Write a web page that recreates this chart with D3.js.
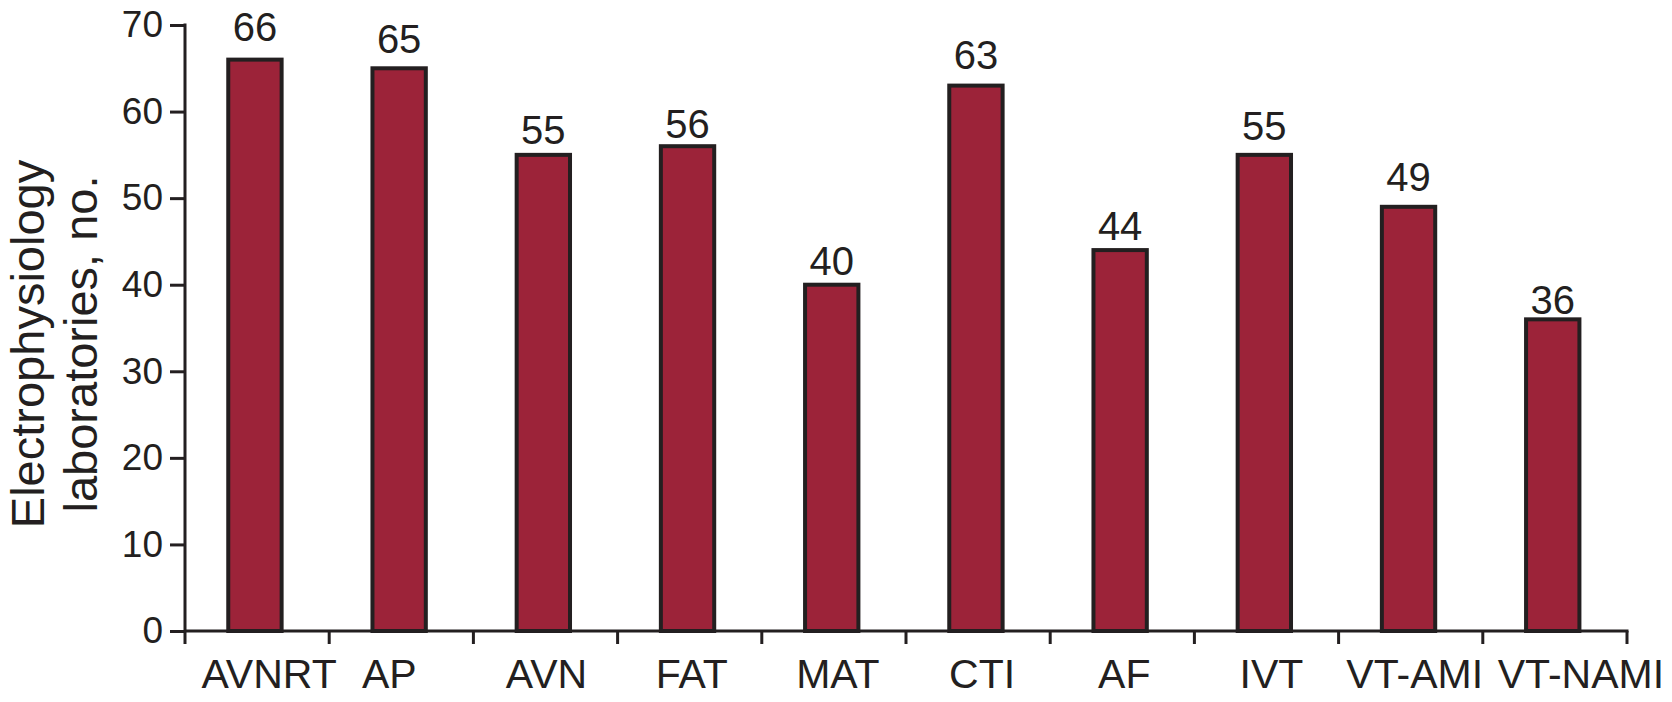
<!DOCTYPE html>
<html>
<head>
<meta charset="utf-8">
<script src="https://cdn.jsdelivr.net/npm/d3@7"></script>
<style>
  body { margin: 0; background: #fff; }
  svg text { font-family: "Liberation Sans", Arial, Helvetica, sans-serif; fill: #231f20; }
</style>
</head>
<body>
<svg></svg>
<script>
const categories = ["AVNRT", "AP", "AVN", "FAT", "MAT", "CTI", "AF", "IVT", "VT-AMI", "VT-NAMI"];
const values = [66, 65, 55, 56, 40, 63, 44, 55, 49, 36];
const yTicks = [0, 10, 20, 30, 40, 50, 60, 70];
// small hand nudges of the labels, as typeset in the original
const labelNudge = [12, -12, 1, 2, 4, 4, 2, 5, 4, 26];
const valueNudge = [8, 4, 0, -3, -1, 6, -1, 4, 5, -6];

const svgWidth = 1672, svgHeight = 702;
const margin = { top: 25, right: 45, bottom: 71, left: 185 };
const width = svgWidth - margin.left - margin.right;
const height = svgHeight - margin.top - margin.bottom;
const ink = "#231f20";

const svg = d3.select("svg")
    .attr("width", svgWidth)
    .attr("height", svgHeight);

const g = svg.append("g")
    .attr("transform", "translate(" + margin.left + "," + margin.top + ")");

const xScale = d3.scaleBand().domain(categories).range([0, width]).padding(0);
const yScale = d3.scaleLinear().domain([0, 70]).range([height, 0]);
const bw = xScale.bandwidth();

// bars
g.selectAll("rect.bar")
    .data(values)
    .enter()
    .append("rect")
    .attr("class", "bar")
    .attr("fill", "#9c2339")
    .attr("stroke", ink)
    .attr("stroke-width", 4)
    .attr("x", function(d, i) { return xScale(categories[i]) + bw * 0.3; })
    .attr("y", function(d) { return yScale(d); })
    .attr("width", bw * 0.37)
    .attr("height", function(d) { return height - yScale(d); });

// value labels
g.selectAll("text.val")
    .data(values)
    .enter()
    .append("text")
    .attr("class", "val")
    .attr("x", function(d, i) { return xScale(categories[i]) + bw * 0.485; })
    .attr("y", function(d, i) { return yScale(d) - 11 - valueNudge[i]; })
    .attr("text-anchor", "middle")
    .style("font-size", "40px")
    .text(function(d) { return d; });

// y axis
const yAxis = g.append("g")
    .call(d3.axisLeft(yScale).tickValues(yTicks).tickSize(15).tickPadding(7).tickSizeOuter(0));
yAxis.select(".domain").remove();
yAxis.selectAll(".tick line").attr("stroke", ink).attr("stroke-width", 3);
yAxis.selectAll(".tick text").style("font-size", "37px").attr("fill", ink);
g.append("line")
    .attr("x1", 0).attr("x2", 0)
    .attr("y1", yScale(70) - 1.5).attr("y2", height + 13)
    .attr("stroke", ink).attr("stroke-width", 3);

// x axis line and boundary ticks
g.append("line")
    .attr("x1", 0).attr("x2", width + 1.5)
    .attr("y1", height).attr("y2", height)
    .attr("stroke", ink).attr("stroke-width", 3);
const bounds = categories.map(function(c) { return xScale(c); }).concat([width]);
g.selectAll("line.xtick")
    .data(bounds.slice(1))
    .enter()
    .append("line")
    .attr("class", "xtick")
    .attr("x1", function(d) { return d; }).attr("x2", function(d) { return d; })
    .attr("y1", height).attr("y2", height + 13)
    .attr("stroke", ink).attr("stroke-width", 3);

// category labels
g.selectAll("text.cat")
    .data(categories)
    .enter()
    .append("text")
    .attr("class", "cat")
    .attr("x", function(d, i) { return xScale(d) + bw / 2 + labelNudge[i]; })
    .attr("y", height + 57)
    .attr("text-anchor", "middle")
    .style("font-size", "41px")
    .text(function(d) { return d; });

// y axis title, two lines
const titleLines = ["Electrophysiology", "laboratories, no."];
svg.selectAll("text.ytitle")
    .data(titleLines)
    .enter()
    .append("text")
    .attr("class", "ytitle")
    .attr("transform", function(d, i) { return "translate(" + (44 + i * 53) + ",344) rotate(-90)"; })
    .attr("text-anchor", "middle")
    .style("font-size", "47px")
    .text(function(d) { return d; });
</script>
</body>
</html>
